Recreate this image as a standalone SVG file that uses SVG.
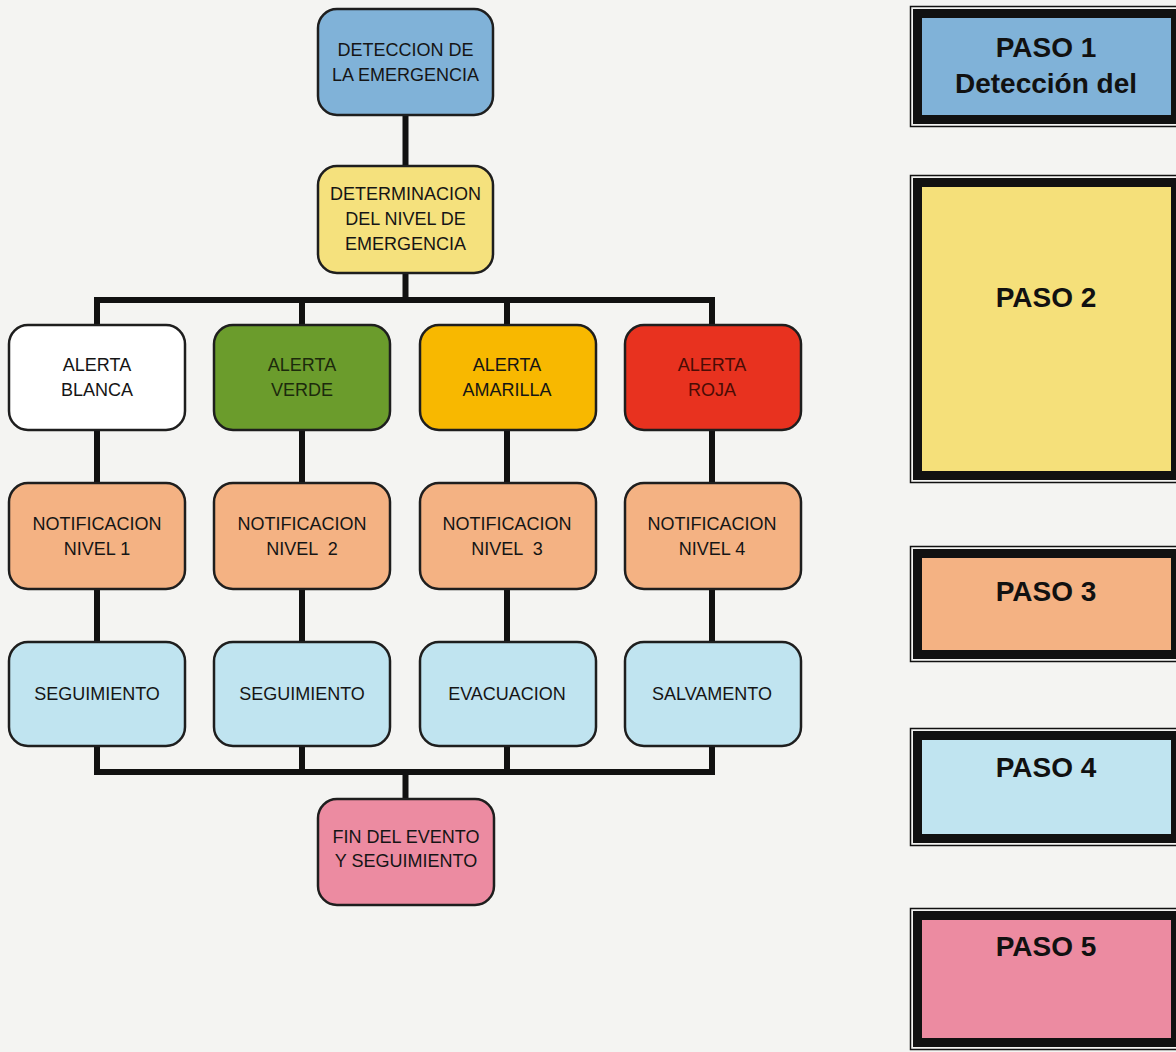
<svg xmlns="http://www.w3.org/2000/svg" width="1176" height="1052" viewBox="0 0 1176 1052">
<style>
.bg{fill:#f4f4f2}
.nd{stroke:#1e1e1e;stroke-width:2.5}
.t{font-family:"Liberation Sans",Arial,sans-serif;font-size:18px;fill:#151515;text-anchor:middle}
.c{stroke:#111;stroke-width:6;fill:none;stroke-linecap:square}
.po{fill:none;stroke:#111;stroke-width:1.5}
.pi{stroke:#111;stroke-width:9}
.pt{font-family:"Liberation Sans",Arial,sans-serif;font-size:28px;font-weight:bold;fill:#111;text-anchor:middle}
</style>
<rect class="bg" x="0" y="0" width="1176" height="1052"/>
<g id="connectors">
<path class="c" d="M405.5 115V167M405.5 273V300M97 300H712M97 300V325M302 300V325M507 300V325M712 300V325"/>
<path class="c" d="M97 430V483M302 430V483M507 430V483M712 430V483"/>
<path class="c" d="M97 589V642M302 589V642M507 589V642M712 589V642"/>
<path class="c" d="M97 746V772M302 746V772M507 746V772M712 746V772M97 772H712M405.5 772V799"/>
</g>
<g id="n-deteccion">
<rect class="nd" x="318" y="9" width="175" height="106" rx="19" fill="#80b2d8"/>
<text class="t" x="405.5" y="56">DETECCION DE</text>
<text class="t" x="405.5" y="81">LA EMERGENCIA</text>
</g>
<g id="n-determinacion">
<rect class="nd" x="318" y="166" width="175" height="107" rx="19" fill="#f5e17d"/>
<text class="t" x="405.5" y="200">DETERMINACION</text>
<text class="t" x="405.5" y="225">DEL NIVEL DE</text>
<text class="t" x="405.5" y="250">EMERGENCIA</text>
</g>
<g id="n-alerta-blanca">
<rect class="nd" x="9" y="325" width="176" height="105" rx="19" fill="#ffffff"/>
<text class="t" x="97" y="371">ALERTA</text>
<text class="t" x="97" y="396">BLANCA</text>
</g>
<g id="n-alerta-verde">
<rect class="nd" x="214" y="325" width="176" height="105" rx="19" fill="#6b9c2c"/>
<text class="t" x="302" y="371" style="fill:#1c2a0c">ALERTA</text>
<text class="t" x="302" y="396" style="fill:#1c2a0c">VERDE</text>
</g>
<g id="n-alerta-amarilla">
<rect class="nd" x="420" y="325" width="176" height="105" rx="19" fill="#f8b800"/>
<text class="t" x="507" y="371">ALERTA</text>
<text class="t" x="507" y="396">AMARILLA</text>
</g>
<g id="n-alerta-roja">
<rect class="nd" x="625" y="325" width="176" height="105" rx="19" fill="#e8321f"/>
<text class="t" x="712" y="371" style="fill:#4a0c05">ALERTA</text>
<text class="t" x="712" y="396" style="fill:#4a0c05">ROJA</text>
</g>
<g id="n-notif-1">
<rect class="nd" x="9" y="483" width="176" height="106" rx="19" fill="#f4b283"/>
<text class="t" x="97" y="530">NOTIFICACION</text>
<text class="t" x="97" y="555">NIVEL 1</text>
</g>
<g id="n-notif-2">
<rect class="nd" x="214" y="483" width="176" height="106" rx="19" fill="#f4b283"/>
<text class="t" x="302" y="530">NOTIFICACION</text>
<text class="t" x="302" y="555" xml:space="preserve">NIVEL  2</text>
</g>
<g id="n-notif-3">
<rect class="nd" x="420" y="483" width="176" height="106" rx="19" fill="#f4b283"/>
<text class="t" x="507" y="530">NOTIFICACION</text>
<text class="t" x="507" y="555" xml:space="preserve">NIVEL  3</text>
</g>
<g id="n-notif-4">
<rect class="nd" x="625" y="483" width="176" height="106" rx="19" fill="#f4b283"/>
<text class="t" x="712" y="530">NOTIFICACION</text>
<text class="t" x="712" y="555">NIVEL 4</text>
</g>
<g id="n-seg-1">
<rect class="nd" x="9" y="642" width="176" height="104" rx="19" fill="#c0e4f0"/>
<text class="t" x="97" y="700">SEGUIMIENTO</text>
</g>
<g id="n-seg-2">
<rect class="nd" x="214" y="642" width="176" height="104" rx="19" fill="#c0e4f0"/>
<text class="t" x="302" y="700">SEGUIMIENTO</text>
</g>
<g id="n-evacuacion">
<rect class="nd" x="420" y="642" width="176" height="104" rx="19" fill="#c0e4f0"/>
<text class="t" x="507" y="700">EVACUACION</text>
</g>
<g id="n-salvamento">
<rect class="nd" x="625" y="642" width="176" height="104" rx="19" fill="#c0e4f0"/>
<text class="t" x="712" y="700">SALVAMENTO</text>
</g>
<g id="n-fin">
<rect class="nd" x="318" y="799" width="176" height="106" rx="19" fill="#ec8ba1"/>
<text class="t" x="406" y="843">FIN DEL EVENTO</text>
<text class="t" x="406" y="867">Y SEGUIMIENTO</text>
</g>
<g id="paso-1">
<rect class="po" x="910.5" y="6.5" width="280" height="120"/>
<rect class="pi" x="917.5" y="13.5" width="258" height="106" fill="#80b2d8"/>
<text class="pt" x="1046" y="57">PASO 1</text>
<text class="pt" x="1046" y="93">Detección del</text>
</g>
<g id="paso-2">
<rect class="po" x="910.5" y="175.5" width="280" height="307"/>
<rect class="pi" x="917.5" y="182.5" width="258" height="293" fill="#f5e07a"/>
<text class="pt" x="1046" y="307">PASO 2</text>
</g>
<g id="paso-3">
<rect class="po" x="910.5" y="546.5" width="280" height="115"/>
<rect class="pi" x="917.5" y="553.5" width="258" height="101" fill="#f4b283"/>
<text class="pt" x="1046" y="601">PASO 3</text>
</g>
<g id="paso-4">
<rect class="po" x="910.5" y="728.5" width="280" height="117"/>
<rect class="pi" x="917.5" y="735.5" width="258" height="103" fill="#c0e4f0"/>
<text class="pt" x="1046" y="777">PASO 4</text>
</g>
<g id="paso-5">
<rect class="po" x="910.5" y="908.5" width="280" height="141"/>
<rect class="pi" x="917.5" y="915.5" width="258" height="127" fill="#ec8ba1"/>
<text class="pt" x="1046" y="956">PASO 5</text>
</g>
</svg>
